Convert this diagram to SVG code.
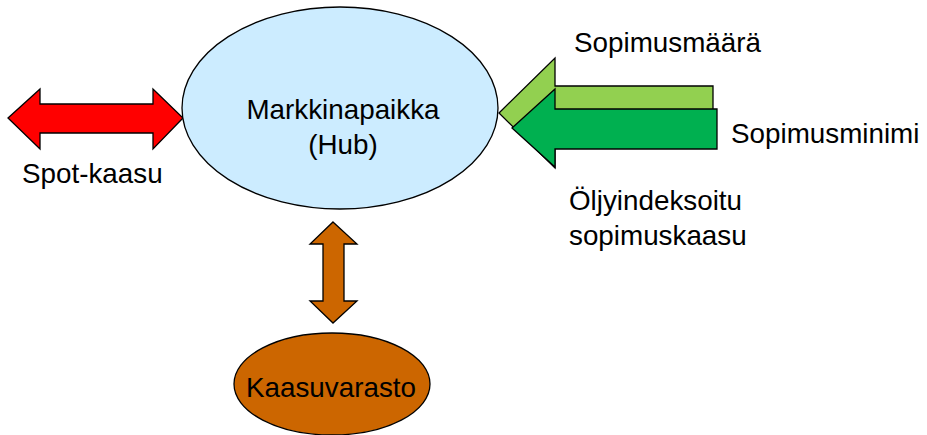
<svg xmlns="http://www.w3.org/2000/svg" width="927" height="435" viewBox="0 0 927 435">
<style>
text{font-family:"Liberation Sans",Arial,sans-serif;font-size:27.8px;fill:#000}
.s{stroke:#000;stroke-width:1.3;stroke-linejoin:miter}
</style>
<rect width="927" height="435" fill="#fff"/>
<g id="connectors">
<polygon class="s" fill="#FF0000" points="8,118 40,89 40,104 153,104 153,89 183,118 153,149 153,133 40,133 40,149"/>
<polygon class="s" fill="#92D050" points="499,113 555,58 555,86 713,86 713,140 555,140 555,168"/>
<polygon class="s" fill="#00B050" points="512,128 555,89 555,109 717,109 717,149 555,149 555,167"/>
<polygon class="s" fill="#CC6600" points="333,222 357,244 344,244 344,301 357,301 333,323 310,301 323,301 323,244 310,244"/>
</g>
<g id="hub">
<ellipse class="s" cx="340" cy="108" rx="158" ry="101" fill="#CCECFF"/>
<text x="343" y="119" text-anchor="middle">Markkinapaikka</text>
<text x="343" y="154" text-anchor="middle">(Hub)</text>
</g>
<g id="storage">
<ellipse class="s" cx="332" cy="384" rx="98" ry="51" fill="#CC6600"/>
<text x="331" y="397" text-anchor="middle">Kaasuvarasto</text>
</g>
<g id="labels">
<text x="22" y="183">Spot-kaasu</text>
<text x="574" y="52">Sopimusmäärä</text>
<text x="731" y="143">Sopimusminimi</text>
<text x="569" y="210">Öljyindeksoitu</text>
<text x="569" y="245">sopimuskaasu</text>
</g>
</svg>
